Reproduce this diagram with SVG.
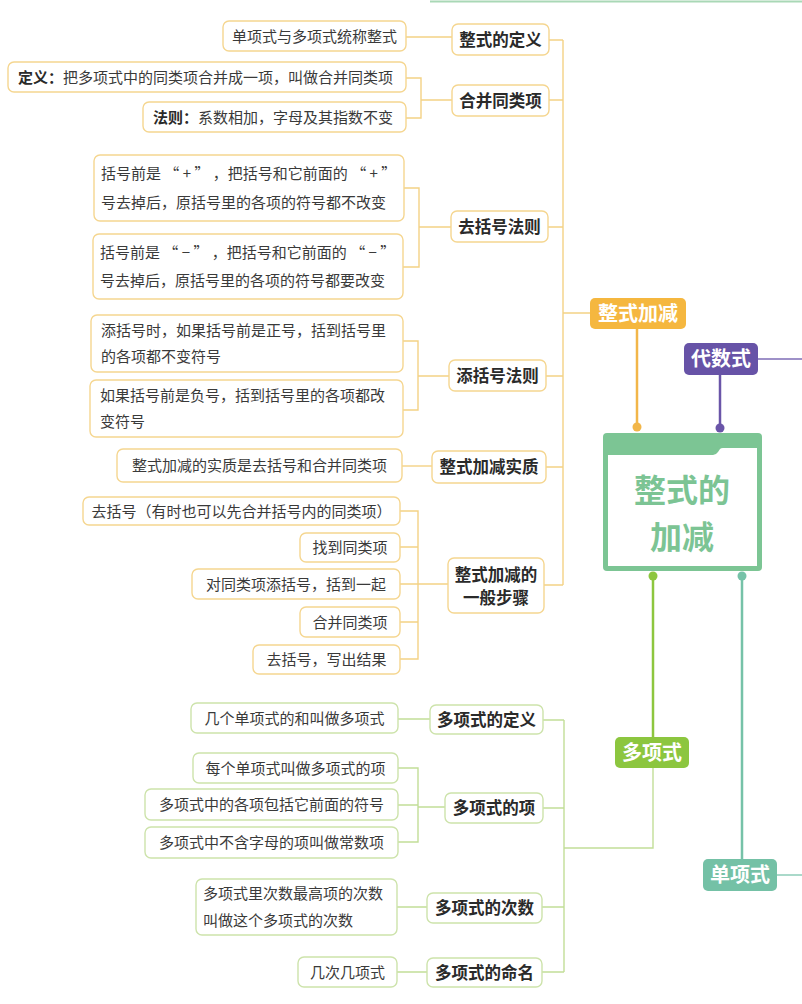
<svg xmlns="http://www.w3.org/2000/svg" width="802" height="1004" viewBox="0 0 802 1004">
<style>
text{font-family:"Noto Sans CJK SC","Noto Sans",sans-serif}
.lo{fill:#fff;stroke:#f5d690;stroke-width:1.4}
.lg{fill:#fff;stroke:#cde3ab;stroke-width:1.4}
.t{font-size:15px;fill:#3a3a3a}
.n{font-size:16.5px;font-weight:700;fill:#2a2a2a}
.w{font-size:20px;font-weight:700;fill:#fff}
.c{text-anchor:middle}
.co{fill:none;stroke:#f4d285;stroke-width:1.4}
.cg{fill:none;stroke:#c2de98;stroke-width:1.4}
</style>
<rect width="802" height="1004" fill="#fff"/>
<line x1="430" y1="1.5" x2="802" y2="1.5" stroke="#a9d8b6" stroke-width="2"/>

<g id="connectors">
  <path class="co" d="M563,40V585M549,40H563M549,100H563M548,227H563M590,313H563M546,376H563M546,467H563M544,585H563"/>
  <path class="co" d="M406,37H452M406,78H421V118H406M421,100H452"/>
  <path class="co" d="M404,188H419V267H403M419,227H451"/>
  <path class="co" d="M403,341H418V410H403M418,376H449"/>
  <path class="co" d="M402,466H432"/>
  <path class="co" d="M400,511H418V659H400M400,547H418M400,584H448M400,622H418"/>
  <path d="M637,329V427" stroke="#f2b649" stroke-width="2.5" fill="none"/>
  <path d="M720,375V428" stroke="#6a55a8" stroke-width="2.5" fill="none"/>
  <path d="M758,359H802" stroke="#7e6cb6" stroke-width="1.4" fill="none"/>
  <path d="M653,576V737" stroke="#8dc63f" stroke-width="2.5" fill="none"/>
  <path class="cg" d="M653,768V848H564M564,720V972M543,720H564M543,808H564M542,907H564M542,972H564"/>
  <path class="cg" d="M398,719H430M398,768H418V842H398M398,805H418M418,807H445M397,907H427M397,972H427"/>
  <path d="M742,576V859" stroke="#76c2a8" stroke-width="2.5" fill="none"/>
  <path d="M777,875H802" stroke="#86c9b3" stroke-width="1.4" fill="none"/>
  <circle cx="637" cy="427" r="4.5" fill="#f2b649"/>
  <circle cx="720" cy="428" r="4.5" fill="#6a55a8"/>
  <circle cx="653" cy="576" r="4.5" fill="#8dc63f"/>
  <circle cx="742" cy="576" r="4.5" fill="#76c2a8"/>
</g>

<g id="center">
  <rect x="603" y="433" width="159" height="138" rx="4" fill="#7cc594"/>
  <path d="M608,455H713Q716,455 718,452L720,449Q721,448 723,448H757V566H608Z" fill="#fff"/>
  <text class="c" x="682" y="502" font-size="32" font-weight="700" fill="#7cc494">整式的</text>
  <text class="c" x="682" y="549" font-size="32" font-weight="700" fill="#7cc494">加减</text>
</g>

<g id="zsjj"><rect x="590" y="298" width="96" height="31" rx="5" fill="#f5b73f"/><text class="w c" x="638" y="320.5">整式加减</text></g>
<g id="dss"><rect x="684" y="343" width="74" height="32" rx="5" fill="#6753a7"/><text class="w c" x="721" y="366">代数式</text></g>
<g id="dxs"><rect x="615" y="737" width="74" height="31" rx="5" fill="#8cc63f"/><text class="w c" x="652" y="759.5">多项式</text></g>
<g id="dxs1"><rect x="703" y="859" width="74" height="32" rx="5" fill="#74c1a6"/><text class="w c" x="740" y="882">单项式</text></g>

<g id="n1"><rect class="lo" x="452" y="24" width="97" height="31" rx="6"/><text class="n c" x="500.5" y="45.5">整式的定义</text></g>
<g id="n2"><rect class="lo" x="452" y="85" width="97" height="31" rx="6"/><text class="n c" x="500.5" y="106.5">合并同类项</text></g>
<g id="n3"><rect class="lo" x="451" y="211" width="97" height="31" rx="6"/><text class="n c" x="499.5" y="232.5">去括号法则</text></g>
<g id="n4"><rect class="lo" x="449" y="360" width="97" height="31" rx="6"/><text class="n c" x="497.5" y="381.5">添括号法则</text></g>
<g id="n5"><rect class="lo" x="432" y="451" width="114" height="32" rx="6"/><text class="n c" x="489" y="473">整式加减实质</text></g>
<g id="n6"><rect class="lo" x="448" y="558" width="96" height="55" rx="6"/><text class="n c" x="496" y="581">整式加减的</text><text class="n c" x="496" y="604">一般步骤</text></g>

<g id="l1"><rect class="lo" x="223" y="21" width="183" height="30" rx="6"/><text class="t c" x="314.5" y="41.5">单项式与多项式统称整式</text></g>
<g id="l2"><rect class="lo" x="8" y="62" width="398" height="30" rx="6"/><text class="t" x="18" y="82.5"><tspan font-weight="700" fill="#2a2a2a">定义：</tspan>把多项式中的同类项合并成一项，叫做合并同类项</text></g>
<g id="l3"><rect class="lo" x="143" y="102" width="263" height="30" rx="6"/><text class="t" x="153" y="122.5"><tspan font-weight="700" fill="#2a2a2a">法则：</tspan>系数相加，字母及其指数不变</text></g>
<g id="l4"><rect class="lo" x="94" y="155" width="310" height="66" rx="6"/><text class="t" x="101" y="179" xml:space="preserve">括号前是 “ + ” ，把括号和它前面的 “ + ”</text><text class="t" x="101" y="207.5">号去掉后，原括号里的各项的符号都不改变</text></g>
<g id="l5"><rect class="lo" x="93" y="234" width="310" height="65" rx="6"/><text class="t" x="100" y="258" xml:space="preserve">括号前是 “ − ” ，把括号和它前面的 “ − ”</text><text class="t" x="100" y="286">号去掉后，原括号里的各项的符号都要改变</text></g>
<g id="l6"><rect class="lo" x="91" y="315" width="312" height="57" rx="6"/><text class="t" x="101" y="335.5">添括号时，如果括号前是正号，括到括号里</text><text class="t" x="101" y="361.5">的各项都不变符号</text></g>
<g id="l7"><rect class="lo" x="90" y="380" width="313" height="57" rx="6"/><text class="t" x="100" y="400.5">如果括号前是负号，括到括号里的各项都改</text><text class="t" x="100" y="426.5">变符号</text></g>
<g id="l8"><rect class="lo" x="117" y="449" width="285" height="33" rx="6"/><text class="t c" x="259.5" y="471">整式加减的实质是去括号和合并同类项</text></g>
<g id="l9"><rect class="lo" x="83" y="497" width="317" height="28" rx="6"/><text class="t c" x="241.5" y="516.5">去括号（有时也可以先合并括号内的同类项）</text></g>
<g id="l10"><rect class="lo" x="300" y="533" width="100" height="29" rx="6"/><text class="t c" x="350" y="553">找到同类项</text></g>
<g id="l11"><rect class="lo" x="192" y="569" width="208" height="30" rx="6"/><text class="t c" x="296" y="589.5">对同类项添括号，括到一起</text></g>
<g id="l12"><rect class="lo" x="300" y="607" width="100" height="30" rx="6"/><text class="t c" x="350" y="627.5">合并同类项</text></g>
<g id="l13"><rect class="lo" x="253" y="645" width="147" height="29" rx="6"/><text class="t c" x="326.5" y="665">去括号，写出结果</text></g>

<g id="g1"><rect class="lg" x="430" y="705" width="113" height="29" rx="6"/><text class="n c" x="486.5" y="725.5">多项式的定义</text></g>
<g id="g2"><rect class="lg" x="445" y="793" width="98" height="30" rx="6"/><text class="n c" x="494" y="814">多项式的项</text></g>
<g id="g3"><rect class="lg" x="427" y="893" width="115" height="30" rx="6"/><text class="n c" x="484.5" y="914">多项式的次数</text></g>
<g id="g4"><rect class="lg" x="427" y="958" width="115" height="29" rx="6"/><text class="n c" x="484.5" y="978.5">多项式的命名</text></g>

<g id="gl1"><rect class="lg" x="191" y="703" width="207" height="30" rx="6"/><text class="t c" x="294.5" y="723.5">几个单项式的和叫做多项式</text></g>
<g id="gl2"><rect class="lg" x="193" y="753" width="205" height="30" rx="6"/><text class="t c" x="295.5" y="773.5">每个单项式叫做多项式的项</text></g>
<g id="gl3"><rect class="lg" x="145" y="789" width="253" height="31" rx="6"/><text class="t c" x="271.5" y="810">多项式中的各项包括它前面的符号</text></g>
<g id="gl4"><rect class="lg" x="145" y="827" width="253" height="31" rx="6"/><text class="t c" x="271.5" y="848">多项式中不含字母的项叫做常数项</text></g>
<g id="gl5"><rect class="lg" x="196" y="879" width="201" height="56" rx="6"/><text class="t" x="203" y="898.5">多项式里次数最高项的次数</text><text class="t" x="203" y="925.5">叫做这个多项式的次数</text></g>
<g id="gl6"><rect class="lg" x="298" y="957" width="99" height="30" rx="6"/><text class="t c" x="347.5" y="977.5">几次几项式</text></g>
</svg>
